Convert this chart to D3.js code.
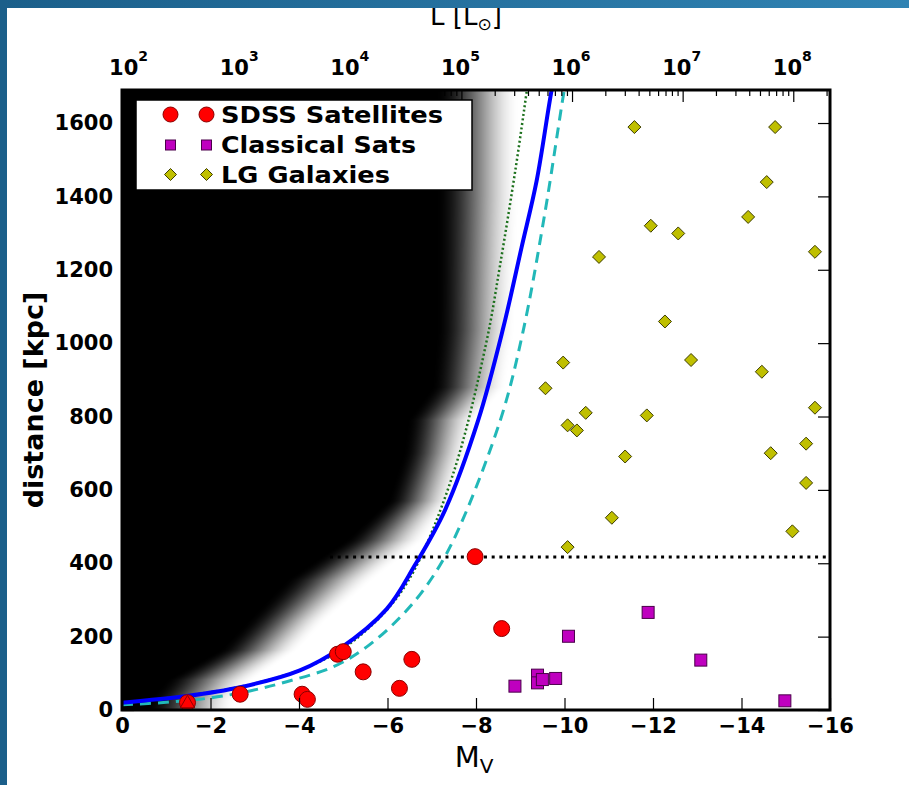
<!DOCTYPE html>
<html>
<head>
<meta charset="utf-8">
<script src="https://cdn.jsdelivr.net/npm/d3@7"></script>
<style>
  html, body { margin: 0; padding: 0; background: #ffffff; }
  svg { display: block; font-family: "DejaVu Sans", sans-serif; }
</style>
</head>
<body>
<svg id="chart" width="909" height="785"></svg>
<script>
// ---- Satellite samples: absolute V magnitude and heliocentric distance (kpc) ----
const sdssMag  = [-1.48, -2.67, -4.07, -4.19, -4.87, -5.00, -5.45, -6.27, -6.55, -7.98, -8.58];
const sdssDist = [20, 43, 43, 29, 152, 159, 104, 59, 138, 418, 222];

const extraMag  = [-1.48];
const extraDist = [20];

const classicalMag  = [-8.88, -9.39, -9.39, -9.50, -9.80, -10.09, -11.89, -13.08, -14.98];
const classicalDist = [65, 95, 74, 83, 86, 201, 266, 136, 25];

const lgMag  = [-11.58, -14.76, -14.57, -14.15, -11.95, -12.57, -10.78, -15.66, -12.27,
                -9.97, -12.86, -14.46, -9.57, -10.48, -11.86, -15.66, -10.07, -10.28,
                -15.46, -14.66, -11.37, -15.46, -11.07, -15.15, -10.07];
const lgDist = [1589, 1589, 1439, 1344, 1320, 1299, 1235, 1249, 1059,
                947, 954, 922, 877, 810, 803, 824, 776, 762,
                726, 700, 691, 619, 524, 487, 444];

// ---- Detection-limit curves (distance reached at a given magnitude) ----
const limitMag  = [0, -1.46, -2.67, -4.02, -4.93, -5.98, -6.62, -7.3, -8.05, -8.61, -9.03, -9.37, -9.71, -9.85];
const limitDist = [20, 38, 62, 108, 168, 275, 395, 545, 790, 1039, 1261, 1442, 1690, 1770];

const cyanMag  = [0, -1.0, -2.0, -2.89, -3.72, -4.78, -5.53, -6.28, -6.89, -7.49, -8.55, -9.06, -9.55, -9.99, -10.1];
const cyanDist = [14, 21, 33, 52, 77, 118, 172, 252, 340, 463, 790, 1030, 1350, 1687, 1760];

const greenMag  = [0, -1.5, -2.7, -4.0, -5.0, -6.0, -6.6, -7.5, -8.23, -8.54, -8.9, -9.15, -9.25];
const greenDist = [19, 40, 64, 108, 168, 275, 380, 650, 1000, 1210, 1480, 1690, 1780];

// Horizontal reference distance
const refDist = 417;
const refMagStart = -4.7;

// ---- Completeness map: 50% edge (mag) and half-width (mag) vs distance ----
const edgeDist = [0, 27, 82, 163, 245, 354, 463, 570, 700, 790, 880, 1034, 1400, 1700];
const edgeMag  = [-1.55, -1.6, -2.0, -3.1, -3.75, -4.7, -5.95, -6.75, -7.1, -7.25, -7.85, -8.0, -8.05, -8.05];
const edgeSoft = [1.0, 1.0, 1.0, 0.9, 0.9, 1.0, 0.9, 0.75, 0.75, 0.8, 0.85, 0.9, 0.95, 0.95];

// ---- Axis ticks ----
const magTicks  = [0, -2, -4, -6, -8, -10, -12, -14, -16];
const distTicks = [0, 200, 400, 600, 800, 1000, 1200, 1400, 1600];
const lumExponents = [2, 3, 4, 5, 6, 7, 8];
const sunAbsMag = 4.83;

// ---- Layout ----
const svg = d3.select("#chart");
const L = 122, R = 830, T = 90, B = 710;

const x = d3.scaleLinear().domain([0, -16]).range([L, R]);
const y = d3.scaleLinear().domain([0, 1690]).range([B, T]);
const magToLum = m => Math.pow(10, (sunAbsMag - m) / 2.5);
const lum = d3.scaleLog().domain([magToLum(0), magToLum(-16)]).range([L, R]);

const defs = svg.append("defs");
defs.append("clipPath").attr("id", "plotClip")
  .append("rect").attr("x", L).attr("y", T).attr("width", R - L).attr("height", B - T);

// ---- Completeness map rendered to a canvas ----
const edgeAt = d3.scaleLinear().domain(edgeDist).range(edgeMag).clamp(true);
const softAt = d3.scaleLinear().domain(edgeDist).range(edgeSoft).clamp(true);
const W = R - L, H = B - T;
const canvas = document.createElement("canvas");
canvas.width = W; canvas.height = H;
const ctx = canvas.getContext("2d");
const img = ctx.createImageData(W, H);
for (let j = 0; j < H; j++) {
  const d = y.invert(T + j + 0.5);
  const e = edgeAt(d), s = softAt(d);
  for (let i = 0; i < W; i++) {
    const m = x.invert(L + i + 0.5);
    let t = ((e - m) / s + 1) / 2;
    t = Math.max(0, Math.min(1, t));
    const v = Math.round(255 * t * t * (3 - 2 * t));
    const k = (j * W + i) * 4;
    img.data[k] = v; img.data[k + 1] = v; img.data[k + 2] = v; img.data[k + 3] = 255;
  }
}
ctx.putImageData(img, 0, 0);
svg.append("image")
  .attr("x", L).attr("y", T).attr("width", W).attr("height", H)
  .attr("preserveAspectRatio", "none")
  .attr("href", canvas.toDataURL());

// ---- Curves ----
const plot = svg.append("g").attr("clip-path", "url(#plotClip)");
const curveLine = d3.line().x(p => x(p[0])).y(p => y(p[1])).curve(d3.curveCatmullRom.alpha(0.5));

plot.append("path")
  .datum(d3.zip(greenMag, greenDist))
  .attr("d", curveLine)
  .attr("fill", "none").attr("stroke", "#1c701c").attr("stroke-width", 2.5)
  .attr("stroke-dasharray", "2,2.5");

plot.append("path")
  .datum(d3.zip(cyanMag, cyanDist))
  .attr("d", curveLine)
  .attr("fill", "none").attr("stroke", "#22b8b8").attr("stroke-width", 3)
  .attr("stroke-dasharray", "11,7");

plot.append("path")
  .datum(d3.zip(limitMag, limitDist))
  .attr("d", curveLine)
  .attr("fill", "none").attr("stroke", "#0000ff").attr("stroke-width", 4);

plot.append("line")
  .attr("x1", x(refMagStart)).attr("x2", x(-16))
  .attr("y1", y(refDist)).attr("y2", y(refDist))
  .attr("stroke", "#000").attr("stroke-width", 3)
  .attr("stroke-dasharray", "3,4.7");

// ---- Markers ----
const sym = (type, size) => d3.symbol().type(type).size(size)();
const diamond = hd => `M0,${-hd}L${hd},0L0,${hd}L${-hd},0Z`;

plot.selectAll(".sdss").data(d3.zip(sdssMag, sdssDist)).join("circle")
  .attr("cx", p => x(p[0])).attr("cy", p => y(p[1])).attr("r", 8)
  .attr("fill", "#ff0000").attr("stroke", "#8a0000").attr("stroke-width", 1);

plot.selectAll(".extra").data(d3.zip(extraMag, extraDist)).join("path")
  .attr("transform", p => `translate(${x(p[0])},${y(p[1]) + 1})`)
  .attr("d", sym(d3.symbolTriangle, 90))
  .attr("fill", "#ff0000").attr("stroke", "#8a0000").attr("stroke-width", 1);

plot.selectAll(".classical").data(d3.zip(classicalMag, classicalDist)).join("rect")
  .attr("x", p => x(p[0]) - 6).attr("y", p => y(p[1]) - 6)
  .attr("width", 12).attr("height", 12)
  .attr("fill", "#bf00bf").attr("stroke", "#4a004a").attr("stroke-width", 1);

plot.selectAll(".lg").data(d3.zip(lgMag, lgDist)).join("path")
  .attr("transform", p => `translate(${x(p[0])},${y(p[1])})`)
  .attr("d", diamond(6.5))
  .attr("fill", "#bfbf00").attr("stroke", "#3d3d00").attr("stroke-width", 1);

// ---- Axes ----
const minus = v => (v < 0 ? "\u2212" + Math.abs(v) : String(v));
const tickStyle = g => {
  g.select(".domain").remove();
  g.selectAll(".tick line").attr("stroke", "#000").attr("stroke-width", 1.2);
  g.selectAll(".tick text")
    .attr("fill", "#000").attr("font-family", "DejaVu Sans, sans-serif")
    .attr("font-weight", "bold").attr("font-size", 21);
};

svg.append("g").attr("transform", `translate(0,${B})`)
  .call(d3.axisBottom(x).tickValues(magTicks).tickFormat(minus).tickSize(-12).tickPadding(8))
  .call(tickStyle);

svg.append("g").attr("transform", `translate(${L},0)`)
  .call(d3.axisLeft(y).tickValues(distTicks).tickFormat(d3.format("d")).tickSize(-12).tickPadding(9))
  .call(tickStyle);

svg.append("g").attr("transform", `translate(${R},0)`)
  .call(d3.axisRight(y).tickValues(distTicks).tickFormat("").tickSize(-12))
  .call(tickStyle);

const lumMajor = lumExponents.map(e => Math.pow(10, e));
const lumMinor = [];
for (let e = 1; e <= 8; e++) for (let k = 2; k <= 9; k++) {
  const v = k * Math.pow(10, e);
  if (v >= lum.domain()[0] && v <= lum.domain()[1]) lumMinor.push(v);
}
svg.append("g").attr("transform", `translate(0,${T})`)
  .call(d3.axisTop(lum).tickValues(lumMinor).tickFormat("").tickSize(-6))
  .call(tickStyle);
svg.append("g").attr("transform", `translate(0,${T})`)
  .call(d3.axisTop(lum).tickValues(lumMajor).tickFormat("").tickSize(-12))
  .call(tickStyle);

const topLabels = svg.append("g").attr("font-weight", "bold").attr("fill", "#000");
lumExponents.forEach(e => {
  const t = topLabels.append("text")
    .attr("x", lum(Math.pow(10, e)) - 1).attr("y", 75)
    .attr("text-anchor", "middle").attr("font-size", 21);
  t.append("tspan").text("10");
  t.append("tspan").attr("dy", -14).attr("font-size", 14).text(String(e));
});

// ---- Frame ----
svg.append("rect")
  .attr("x", L).attr("y", T).attr("width", R - L).attr("height", B - T)
  .attr("fill", "none").attr("stroke", "#000").attr("stroke-width", 3);

// ---- Axis titles ----
svg.append("text")
  .attr("transform", `translate(43,${(T + B) / 2}) rotate(-90)`)
  .attr("text-anchor", "middle").attr("font-weight", "bold").attr("font-size", 27)
  .text("distance [kpc]");

const xl = svg.append("text").attr("x", 474).attr("y", 767)
  .attr("text-anchor", "middle").attr("font-size", 29);
xl.append("tspan").text("M");
xl.append("tspan").attr("dy", 6).attr("font-size", 20).text("V");

const tl = svg.append("text").attr("x", 466).attr("y", 25)
  .attr("text-anchor", "middle").attr("font-size", 26);
tl.append("tspan").text("L [L");
tl.append("tspan").attr("dy", 5).attr("font-size", 17).text("\u2299");
tl.append("tspan").attr("dy", -5).text("]");

// ---- Legend ----
const lg = svg.append("g");
lg.append("rect").attr("x", 136).attr("y", 100).attr("width", 336).attr("height", 90)
  .attr("fill", "#fff").attr("stroke", "#000").attr("stroke-width", 1.5);
const legendRows = [
  { label: "SDSS Satellites", cy: 114.5, len: 222, kind: "circle" },
  { label: "Classical Sats",  cy: 145,   len: 195, kind: "square" },
  { label: "LG Galaxies",     cy: 174.5, len: 169, kind: "diamond" }
];
legendRows.forEach(r => {
  [170.5, 206.5].forEach(cx => {
    if (r.kind === "circle") {
      lg.append("circle").attr("cx", cx).attr("cy", r.cy).attr("r", 7.5)
        .attr("fill", "#ff0000").attr("stroke", "#8a0000").attr("stroke-width", 1);
    } else if (r.kind === "square") {
      lg.append("rect").attr("x", cx - 5).attr("y", r.cy - 5).attr("width", 10).attr("height", 10)
        .attr("fill", "#bf00bf").attr("stroke", "#4a004a").attr("stroke-width", 1);
    } else {
      lg.append("path").attr("transform", `translate(${cx},${r.cy})`).attr("d", diamond(6))
        .attr("fill", "#bfbf00").attr("stroke", "#3d3d00").attr("stroke-width", 1);
    }
  });
  lg.append("text").attr("x", 221).attr("y", r.cy + 8.3)
    .attr("font-weight", "bold").attr("font-size", 23)
    .attr("textLength", r.len).attr("lengthAdjust", "spacingAndGlyphs")
    .text(r.label);
});

// ---- Slide frame bands ----
const band = defs.append("linearGradient").attr("id", "band").attr("x1", 0).attr("x2", 1);
band.append("stop").attr("offset", 0).attr("stop-color", "#1b5f8a");
band.append("stop").attr("offset", 1).attr("stop-color", "#3083b3");
svg.append("rect").attr("x", 0).attr("y", 0).attr("width", 909).attr("height", 8).attr("fill", "url(#band)");
svg.append("rect").attr("x", 0).attr("y", 0).attr("width", 7).attr("height", 785).attr("fill", "#1b5f8a");
</script>
</body>
</html>
